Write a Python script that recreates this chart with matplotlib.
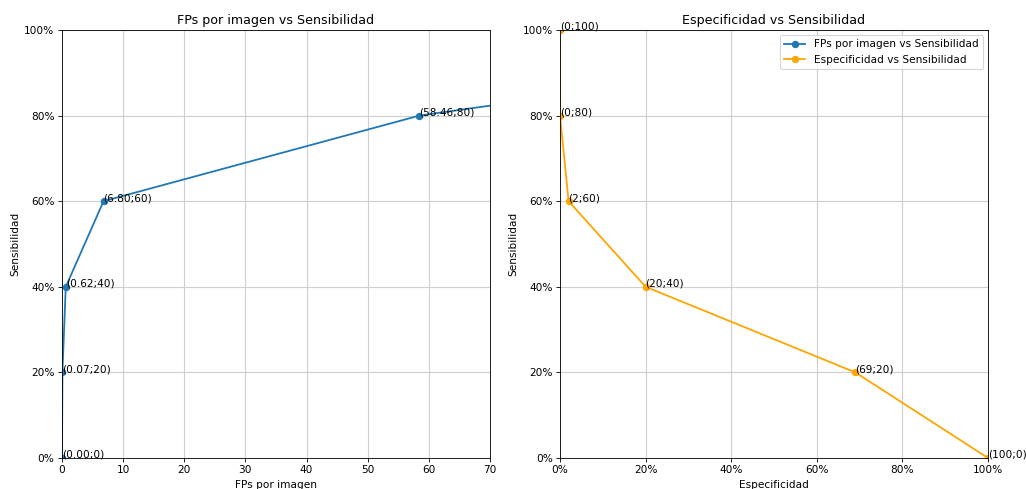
import matplotlib
matplotlib.use('Agg')
import matplotlib.pyplot as plt
from matplotlib.ticker import PercentFormatter

# FPs per image vs sensitivity
fps = [0.00, 0.07, 0.62, 6.80, 58.46, 158.0]
sens_fps = [0, 20, 40, 60, 80, 100]

# specificity vs sensitivity
spec = [100, 69, 20, 2, 0, 0]
sens_spec = [0, 20, 40, 60, 80, 100]

DPI = 76
fig = plt.figure(figsize=(1026 / DPI, 489 / DPI), dpi=DPI)
fig.subplots_adjust(left=0.0604, right=0.963, bottom=0.0634, top=0.9387,
                    wspace=0.1636)

# left panel
ax1 = fig.add_subplot(121)
line1, = ax1.plot(fps, sens_fps, 'o-', color='#1f77b4', linewidth=1.7,
                  label='FPs por imagen vs Sensibilidad')
for x, y in zip(fps, sens_fps):
    ax1.annotate('({:.2f};{:d})'.format(x, y), xy=(x, y),
                 annotation_clip=True)
ax1.set_xlim(0, 70)
ax1.set_ylim(0, 100)
ax1.yaxis.set_major_formatter(PercentFormatter(decimals=0))
ax1.grid(True, color='#cfcfcf', linewidth=1.1)
ax1.set_title('FPs por imagen vs Sensibilidad')
ax1.set_xlabel('FPs por imagen')
ax1.set_ylabel('Sensibilidad')

# right panel
ax2 = fig.add_subplot(122)
line2, = ax2.plot(spec, sens_spec, 'o-', color='orange', linewidth=1.7,
                  label='Especificidad vs Sensibilidad')
for x, y in zip(spec, sens_spec):
    ax2.annotate('({};{})'.format(x, y), xy=(x, y), annotation_clip=False)
ax2.set_xlim(0, 100)
ax2.set_ylim(0, 100)
ax2.xaxis.set_major_formatter(PercentFormatter(decimals=0))
ax2.yaxis.set_major_formatter(PercentFormatter(decimals=0))
ax2.grid(True, color='#cfcfcf', linewidth=1.1)
ax2.set_title('Especificidad vs Sensibilidad')
ax2.set_xlabel('Especificidad')
ax2.set_ylabel('Sensibilidad')
ax2.legend(handles=[line1, line2], loc='upper right')

fig.savefig('out.png', dpi=DPI)
